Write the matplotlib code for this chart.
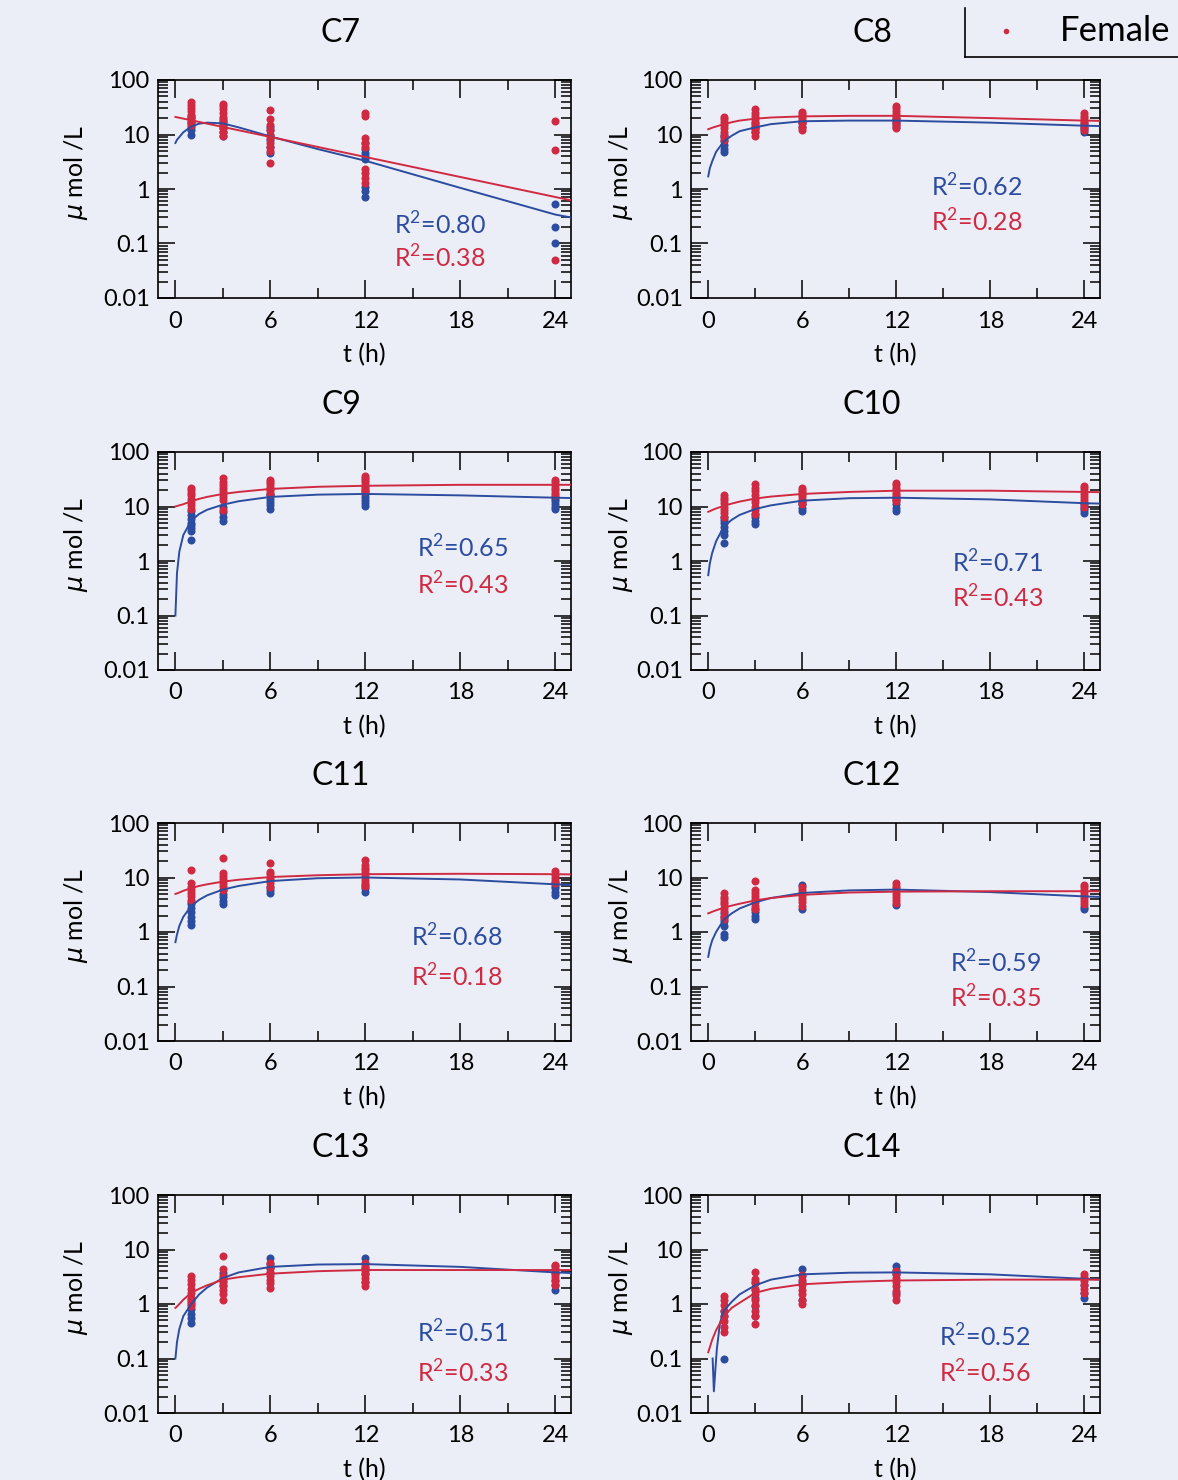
"""
Acylcarnitine C7-C14 time courses (male vs female), log scale
"""
import matplotlib.pyplot as plt
import matplotlib.ticker as mticker
from matplotlib.lines import Line2D

plt.rcParams['font.family'] = ['Lato', 'DejaVu Sans']
plt.rcParams['mathtext.fontset'] = 'dejavusans'

BLUE = '#2c4c9f'
RED = '#cf2a41'
BG = '#eceef7'

PANELS = ['C7', 'C8', 'C9', 'C10', 'C11', 'C12', 'C13', 'C14']
R2_MALE = ['0.80', '0.62', '0.65', '0.71', '0.68', '0.59', '0.51', '0.52']
R2_FEMALE = ['0.38', '0.28', '0.43', '0.43', '0.18', '0.35', '0.33', '0.56']

# measured points, time (h) -> values (umol/L)
C7_MALE = {1: [10, 12, 14, 16, 18, 20, 22], 3: [9.5, 11, 13, 15, 17, 19],
           6: [4.5, 6, 8, 10, 12, 14], 12: [0.7, 0.9, 1.1, 3.5, 4, 4.5, 5.5, 7],
           24: [0.1, 0.2, 0.52]}
C7_FEMALE = {1: [15, 17, 20, 23, 27, 31, 35, 39], 3: [9.5, 11, 13, 15, 18, 21, 25, 29, 33, 37],
             6: [3, 5, 6, 7, 8.5, 10, 12, 15, 19, 28], 12: [1.3, 1.6, 2, 2.3, 6, 7, 8.5, 22, 25],
             24: [0.05, 5.3, 18]}
C8_MALE = {1: [4.8, 5.5, 6.5, 7.5, 9, 10], 3: [11, 12.5, 14, 16], 6: [14, 16, 18],
           12: [14, 15.5, 17, 19], 24: [11, 12.5, 14, 15.5]}
C8_FEMALE = {1: [8, 9.5, 11, 13, 15, 17, 19, 21], 3: [9.5, 11, 13, 15, 17, 19.5, 22, 25, 29],
             6: [12, 14, 16, 18, 20, 22, 24, 26], 12: [13, 15, 17, 19, 21, 24, 27, 30, 34],
             24: [12, 14, 16, 18, 20, 22, 25]}
C9_MALE = {1: [2.4, 3.5, 4, 4.5, 5, 6, 7, 8.3], 3: [5.5, 6.5, 8, 9.6], 6: [9, 10.5, 12, 14, 16, 17],
           12: [10.3, 11.5, 13, 15, 17, 19], 24: [9, 10, 11, 12.5, 14, 15]}
C9_FEMALE = {1: [9, 10.5, 12, 14, 16, 18, 20, 22], 3: [8.8, 13, 15, 17, 19, 22, 25, 28, 34],
             6: [17, 19, 21, 23, 26, 28, 30], 12: [19, 21, 23, 25, 28, 31, 34, 36],
             24: [16, 18, 20, 22, 25, 28, 30]}
C10_MALE = {1: [2.1, 3, 3.5, 4.2, 5, 5.7, 6.3], 3: [4.7, 5.5, 6.3, 7.3], 6: [8.3, 9.5, 11, 12],
            12: [8.3, 9.5, 11, 13, 14.7], 24: [7.7, 8.5, 9.5, 10.5, 11.8]}
C10_FEMALE = {1: [6.3, 7.5, 8.5, 10, 11.5, 13, 14.5, 16], 3: [7.3, 8.5, 10, 12, 14, 16.5, 19, 22, 26],
              6: [11, 12.5, 14, 15.5, 17, 18.5, 20, 22], 12: [12.6, 14, 16, 18, 20, 22, 24.5, 27],
              24: [10, 11.5, 13, 15, 17, 19, 21.5, 24]}
C11_MALE = {1: [1.35, 1.6, 1.9, 2.3, 2.8, 3.2, 3.6], 3: [3.2, 3.7, 4.3, 5, 6], 6: [5.2, 5.8, 6.8],
            12: [5.5, 6.3, 7.3], 24: [4.8, 5.5, 6.3, 7, 7.8]}
C11_FEMALE = {1: [3.9, 4.5, 5.2, 6, 6.8, 7.8, 14], 3: [6, 7, 8, 9.3, 10.5, 12, 23],
              6: [6.8, 7.8, 9, 10, 11.4, 12.8, 18.7], 12: [7, 8, 9, 10.5, 12, 13.5, 15, 17, 21],
              24: [7.8, 8.8, 10, 11.3, 13]}
C12_MALE = {1: [0.8, 0.9, 1.3, 1.6, 1.9, 2.2], 3: [1.7, 2.0, 2.3, 2.6], 6: [2.6, 7.3],
            12: [3.1], 24: [2.6, 2.9]}
C12_FEMALE = {1: [1.7, 2, 2.4, 2.8, 3.2, 3.6, 4, 4.4, 5.1], 3: [2.6, 3, 3.5, 4, 4.6, 5.2, 5.9, 8.6],
              6: [3, 3.5, 4, 4.6, 5.2, 5.9, 6.8], 12: [3.4, 3.9, 4.4, 5, 5.6, 6.3, 7, 7.8],
              24: [3.2, 3.7, 4.2, 4.8, 5.4, 6, 6.6, 7.3]}
C13_MALE = {1: [0.45, 0.55, 0.65, 0.8, 1.0, 1.2], 3: [2.1, 2.5, 3.0, 3.7], 6: [3.7, 4.5, 5.5, 6.9],
            12: [2.5, 3.5, 4.5, 5.5, 6.9], 24: [1.8, 2.2, 2.8, 3.5, 4.2, 4.9]}
C13_FEMALE = {1: [0.9, 1.1, 1.3, 1.6, 1.9, 2.3, 2.7, 3.2], 3: [1.2, 1.5, 1.8, 2.2, 2.7, 3.3, 4.3, 7.5],
              6: [2, 2.4, 2.8, 3.3, 3.9, 4.6, 5.7], 12: [2.1, 2.5, 3, 3.5, 4.1, 4.8, 5.7],
              24: [2.2, 2.6, 3.1, 3.7, 4.4, 5.2]}
C14_MALE = {1: [0.1, 0.6, 0.75], 3: [0.6, 0.9, 1.3, 1.8, 2.5], 6: [1.2, 2.5, 3.3, 4.4],
            12: [1.6, 3.5, 4.2, 5], 24: [1.3, 1.6, 2.2]}
C14_FEMALE = {1: [0.3, 0.38, 0.48, 0.6, 0.75, 0.95, 1.2, 1.4],
              3: [0.43, 0.6, 0.75, 0.95, 1.2, 1.5, 1.9, 2.4, 2.9, 3.8],
              6: [1.0, 1.2, 1.5, 1.8, 2.2, 2.7, 3.4], 12: [1.2, 1.45, 1.75, 2.1, 2.5, 3, 3.5, 4],
              24: [1.6, 1.9, 2.2, 2.6, 3.1, 3.6]}

# fitted curves
FIT_T = [0, 0.1, 0.25, 0.5, 1, 1.5, 2, 3, 4, 6, 9, 12, 18, 24, 25]
C7_MALE_FIT = [7, 8, 9, 11, 14, 15.8, 16.5, 16, 13.5, 9.2, 5.4, 3.3, 1.05, 0.34, 0.3]
C7_FEMALE_FIT_T = [0, 25]
C7_FEMALE_FIT = [21, 0.62]
C8_MALE_FIT = [1.7, 2.4, 3.2, 4.8, 7.5, 9.5, 11.5, 13.5, 15.5, 17.5, 18, 18, 16.5, 14.5, 14.3]
C8_FEMALE_FIT = [12.5, 12.8, 13.3, 14, 15.5, 16.8, 18, 19.5, 20.5, 21.5, 22, 22, 20, 18, 17.8]
C9_MALE_FIT = [0.1, 0.6, 1.5, 3, 5.5, 7.3, 8.7, 10.8, 12.5, 15, 16.5, 17, 16, 14.5, 14.3]
C9_FEMALE_FIT = [10, 10.2, 10.5, 11, 12.5, 13.8, 15, 17, 18.5, 21, 23, 24, 25, 25, 25]
C10_MALE_FIT = [0.55, 0.9, 1.4, 2.3, 4.3, 5.7, 7, 9, 10.5, 12.8, 14.2, 14.5, 13.5, 11.5, 11.3]
C10_FEMALE_FIT = [8, 8.2, 8.6, 9.2, 10.3, 11.3, 12.3, 14, 15.2, 17, 18.5, 19.5, 19.5, 18.5, 18.3]
C11_MALE_FIT = [0.65, 0.9, 1.3, 1.9, 3, 3.9, 4.7, 6, 7, 8.6, 9.7, 10, 9.2, 7.5, 7.3]
C11_FEMALE_FIT = [5, 5.1, 5.3, 5.7, 6.4, 7, 7.5, 8.4, 9.1, 10.2, 11, 11.5, 11.7, 11.5, 11.4]
C12_MALE_FIT = [0.35, 0.5, 0.7, 1.0, 1.7, 2.2, 2.7, 3.5, 4.2, 5.2, 5.8, 6, 5.4, 4.5, 4.4]
C12_FEMALE_FIT = [2.2, 2.25, 2.35, 2.5, 2.8, 3.05, 3.3, 3.8, 4.2, 4.8, 5.3, 5.5, 5.6, 5.6, 5.6]
C13_MALE_FIT = [0.1, 0.2, 0.35, 0.6, 1.0, 1.5, 2.0, 3.0, 3.8, 4.8, 5.3, 5.4, 4.8, 3.8, 3.7]
C13_FEMALE_FIT = [0.85, 0.9, 1.0, 1.2, 1.6, 1.9, 2.2, 2.8, 3.1, 3.6, 4.0, 4.2, 4.2, 4.2, 4.2]
C14_MALE_FIT_T = [0.28, 0.36, 0.45, 0.55, 0.75, 1, 1.5, 2, 3, 4, 6, 9, 12, 18, 24, 25]
C14_MALE_FIT = [0.1, 0.025, 0.06, 0.15, 0.45, 0.75, 1.1, 1.5, 2.2, 2.8, 3.5, 3.75, 3.8, 3.5, 2.9, 2.8]
C14_FEMALE_FIT = [0.13, 0.16, 0.22, 0.33, 0.6, 0.85, 1.05, 1.6, 1.9, 2.3, 2.55, 2.7, 2.8, 2.8, 2.8]

MALE_PTS = [C7_MALE, C8_MALE, C9_MALE, C10_MALE, C11_MALE, C12_MALE, C13_MALE, C14_MALE]
FEMALE_PTS = [C7_FEMALE, C8_FEMALE, C9_FEMALE, C10_FEMALE, C11_FEMALE, C12_FEMALE,
              C13_FEMALE, C14_FEMALE]
MALE_FITS = [(FIT_T, C7_MALE_FIT), (FIT_T, C8_MALE_FIT), (FIT_T, C9_MALE_FIT),
             (FIT_T, C10_MALE_FIT), (FIT_T, C11_MALE_FIT), (FIT_T, C12_MALE_FIT),
             (FIT_T, C13_MALE_FIT), (C14_MALE_FIT_T, C14_MALE_FIT)]
FEMALE_FITS = [(C7_FEMALE_FIT_T, C7_FEMALE_FIT), (FIT_T, C8_FEMALE_FIT), (FIT_T, C9_FEMALE_FIT),
               (FIT_T, C10_FEMALE_FIT), (FIT_T, C11_FEMALE_FIT), (FIT_T, C12_FEMALE_FIT),
               (FIT_T, C13_FEMALE_FIT), (FIT_T, C14_FEMALE_FIT)]

# where the R^2 labels sit (axes fraction): x, y blue, y red
R2_POS = [(0.571, 0.335, 0.183), (0.587, 0.509, 0.349), (0.627, 0.56, 0.39),
          (0.638, 0.49, 0.33), (0.613, 0.477, 0.294), (0.633, 0.358, 0.197),
          (0.627, 0.367, 0.183), (0.606, 0.349, 0.183)]

W, H = 1178, 1480
fig = plt.figure(figsize=(W / 100, H / 100), dpi=100, facecolor=BG)

col_left = [158, 691]
col_width = [413, 409]
row_top = [80, 452, 823, 1195]
ax_h = 218

for i, name in enumerate(PANELS):
    r, c = i // 2, i % 2
    ax = fig.add_axes([col_left[c] / W, 1 - (row_top[r] + ax_h) / H,
                       col_width[c] / W, ax_h / H])
    ax.set_facecolor(BG)

    for t, vals in MALE_PTS[i].items():
        ax.plot([t] * len(vals), vals, 'o', color=BLUE, ms=5.8, mec='none', zorder=2)
    for t, vals in FEMALE_PTS[i].items():
        ax.plot([t] * len(vals), vals, 'o', color=RED, ms=5.8, mec='none', zorder=3)
    ax.plot(MALE_FITS[i][0], MALE_FITS[i][1], '-', color=BLUE, lw=1.4, zorder=4)
    ax.plot(FEMALE_FITS[i][0], FEMALE_FITS[i][1], '-', color=RED, lw=1.4, zorder=5)

    ax.set_yscale('log')
    ax.set_ylim(0.01, 100)
    ax.set_xlim(-1.1, 25)
    ax.set_xticks([0, 6, 12, 18, 24])
    ax.set_xticklabels(['0', '6', '12', '18', '24'])
    ax.set_xticks([3, 9, 15, 21], minor=True)
    ax.yaxis.set_major_locator(mticker.FixedLocator([0.01, 0.1, 1, 10, 100]))
    ax.yaxis.set_major_formatter(mticker.FixedFormatter(['0.01', '0.1', '1', '10', '100']))
    ax.yaxis.set_minor_locator(mticker.LogLocator(base=10, subs=range(2, 10), numticks=12))
    ax.yaxis.set_minor_formatter(mticker.NullFormatter())
    ax.tick_params(which='both', direction='in', top=True, right=True, width=1.1,
                   labelsize=17, pad=6)
    ax.tick_params(axis='x', which='major', length=13, pad=9)
    ax.tick_params(axis='x', which='minor', length=7)
    ax.tick_params(axis='y', which='major', length=12)
    ax.tick_params(axis='y', which='minor', length=7)
    for sp in ax.spines.values():
        sp.set_linewidth(1.2)

    ax.set_xlabel('t (h)', fontsize=18, labelpad=8)
    ax.set_ylabel(r'$\mu$ mol /L', fontsize=18)
    ax.yaxis.set_label_coords(-0.165 if c == 0 else -0.137, 0.575)
    ax.text(0.443, 1.216, name, transform=ax.transAxes, ha='center', va='center', fontsize=23)

    x0, yb, yr = R2_POS[i]
    ax.text(x0, yb, r'R$^{\mathregular{2}}$=' + R2_MALE[i], transform=ax.transAxes,
            color=BLUE, fontsize=18, va='center')
    ax.text(x0, yr, r'R$^{\mathregular{2}}$=' + R2_FEMALE[i], transform=ax.transAxes,
            color=RED, fontsize=18, va='center')

# legend box, cut off by the page edge as in the scan
fig.add_artist(Line2D([965 / W, 965 / W], [1 - 8 / H, 1 - 57 / H], transform=fig.transFigure,
                      color='black', lw=1.2))
fig.add_artist(Line2D([965 / W, 1.0], [1 - 57 / H, 1 - 57 / H], transform=fig.transFigure,
                      color='black', lw=1.2))
fig.add_artist(Line2D([1006 / W], [1 - 31 / H], transform=fig.transFigure, marker='o',
                      color=RED, ms=4, mec='none', ls='none'))
fig.text(1060 / W, 1 - 31 / H, 'Female', fontsize=25, va='center', ha='left')

fig.savefig('out.png', dpi=100, facecolor=BG)
